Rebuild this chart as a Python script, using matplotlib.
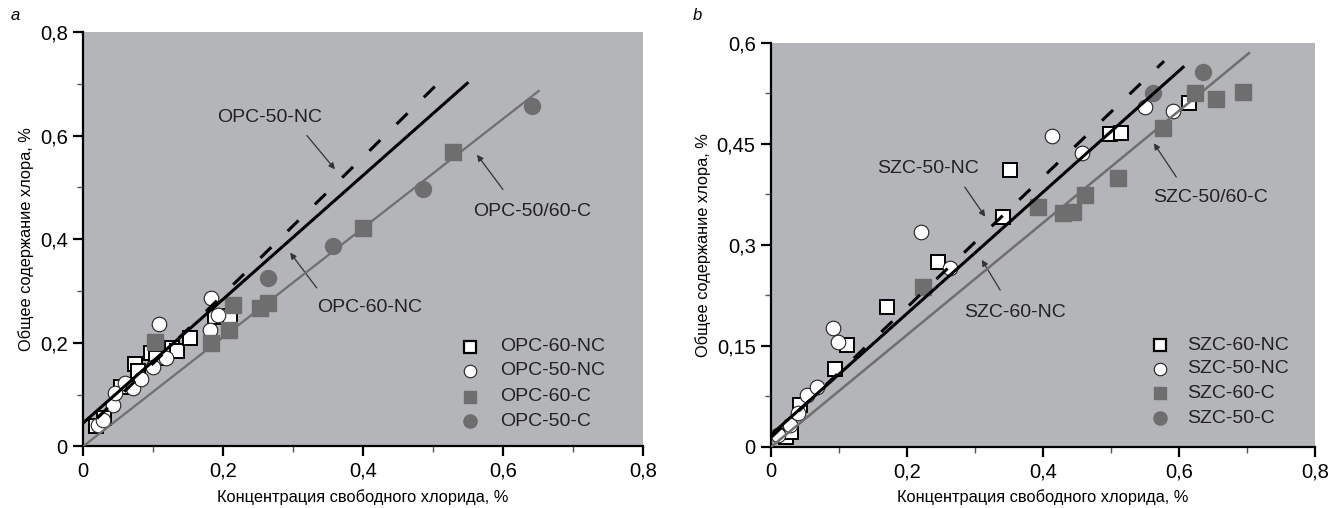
import matplotlib
matplotlib.use("Agg")
import matplotlib.pyplot as plt
from matplotlib.ticker import FuncFormatter, MultipleLocator

plt.rcParams['font.family'] = ['Liberation Sans', 'DejaVu Sans']

# ---------------- Panel a (OPC) ----------------
opc60nc_x = [0.019, 0.03, 0.055, 0.074, 0.078, 0.097, 0.105, 0.127, 0.135, 0.153, 0.189, 0.21]
opc60nc_y = [0.040, 0.055, 0.115, 0.160, 0.145, 0.180, 0.170, 0.190, 0.185, 0.210, 0.250, 0.252]
opc50nc_x = [0.021, 0.028, 0.043, 0.046, 0.06, 0.071, 0.083, 0.10, 0.109, 0.119, 0.181, 0.183, 0.193]
opc50nc_y = [0.041, 0.051, 0.080, 0.103, 0.123, 0.113, 0.130, 0.154, 0.237, 0.171, 0.225, 0.287, 0.254]
opc60c_x = [0.103, 0.183, 0.209, 0.214, 0.253, 0.264, 0.40, 0.529]
opc60c_y = [0.202, 0.200, 0.225, 0.273, 0.267, 0.277, 0.422, 0.569]
opc50c_x = [0.264, 0.357, 0.486, 0.641]
opc50c_y = [0.326, 0.386, 0.496, 0.658]
# fitted lines (x range, y range)
opc60nc_fit_x = [0.0, 0.549]
opc60nc_fit_y = [0.045, 0.701]
opc50nc_fit_x = [0.02, 0.521]
opc50nc_fit_y = [0.054, 0.719]
opcc_fit_x = [0.0, 0.651]
opcc_fit_y = [0.0, 0.686]

# ---------------- Panel b (SZC) ----------------
szc60nc_x = [0.022, 0.030, 0.043, 0.094, 0.112, 0.171, 0.246, 0.341, 0.351, 0.499, 0.515, 0.615]
szc60nc_y = [0.015, 0.022, 0.062, 0.116, 0.151, 0.208, 0.275, 0.342, 0.411, 0.465, 0.466, 0.511]
szc50nc_x = [0.010, 0.028, 0.040, 0.053, 0.068, 0.091, 0.099, 0.221, 0.263, 0.413, 0.457, 0.55, 0.591]
szc50nc_y = [0.018, 0.033, 0.050, 0.077, 0.089, 0.177, 0.156, 0.319, 0.266, 0.462, 0.437, 0.505, 0.499]
szc60c_x = [0.224, 0.393, 0.43, 0.444, 0.462, 0.51, 0.577, 0.624, 0.654, 0.694]
szc60c_y = [0.238, 0.356, 0.347, 0.349, 0.374, 0.400, 0.474, 0.526, 0.517, 0.527]
szc50c_x = [0.562, 0.636]
szc50c_y = [0.526, 0.557]
szc60nc_fit_x = [0.0, 0.606]
szc60nc_fit_y = [0.018, 0.564]
szc50nc_fit_x = [0.0, 0.578]
szc50nc_fit_y = [0.014, 0.573]
szcc_fit_x = [0.0, 0.703]
szcc_fit_y = [0.0, 0.585]

labels_a = ['OPC-60-NC', 'OPC-50-NC', 'OPC-60-C', 'OPC-50-C']
labels_b = ['SZC-60-NC', 'SZC-50-NC', 'SZC-60-C', 'SZC-50-C']

BG = '#b4b5b9'
GRAY = '#6e6e6e'
LGRAY = '#6f6f6f'
DASH = (0, (5, 7.5))

fig = plt.figure(figsize=(13.42, 5.08), dpi=100)
axA = fig.add_axes([0.0618, 0.1211, 0.4173, 0.816])
axB = fig.add_axes([0.5745, 0.1201, 0.4054, 0.7953])

comma = FuncFormatter(lambda v, p: ('%g' % round(v, 3)).replace('.', ','))


def style(ax, ymax, ymaj, ymin):
    ax.set_facecolor(BG)
    ax.set_xlim(0, 0.8)
    ax.set_ylim(0, ymax)
    for s in ['top', 'right']:
        ax.spines[s].set_visible(False)
    for s in ['left', 'bottom']:
        ax.spines[s].set_linewidth(1.6)
    ax.xaxis.set_major_locator(MultipleLocator(0.2))
    ax.xaxis.set_minor_locator(MultipleLocator(0.1))
    ax.yaxis.set_major_locator(MultipleLocator(ymaj))
    ax.yaxis.set_minor_locator(MultipleLocator(ymin))
    ax.xaxis.set_major_formatter(comma)
    ax.yaxis.set_major_formatter(comma)
    ax.tick_params(which='major', direction='out', length=7, width=1.6, labelsize=14.5, pad=4)
    ax.tick_params(which='minor', direction='out', length=4, width=1.0, color='#555555')
    ax.set_xlabel('Концентрация свободного хлорида, %', fontsize=11.8, labelpad=6)
    ax.set_ylabel('Общее содержание хлора, %', fontsize=11.8, labelpad=4)


def scatter(ax, groups):
    sq, ci, gsq, gci = groups
    ax.plot(*sq, ls='none', marker='s', ms=9.5, mfc='white', mec='black', mew=1.4, zorder=3)
    ax.plot(*ci, ls='none', marker='o', ms=10.5, mfc='white', mec='#222222', mew=0.8, zorder=3)
    ax.plot(*gsq, ls='none', marker='s', ms=11, mfc=GRAY, mec=GRAY, zorder=3)
    ax.plot(*gci, ls='none', marker='o', ms=11.5, mfc=GRAY, mec=GRAY, zorder=3)


def legend(ax, x_m, x_t, ys, labels):
    specs = [dict(marker='s', ms=9, mfc='white', mec='black', mew=1.6),
             dict(marker='o', ms=9, mfc='white', mec='#222222', mew=0.8),
             dict(marker='s', ms=9, mfc=GRAY, mec=GRAY),
             dict(marker='o', ms=9.5, mfc=GRAY, mec=GRAY)]
    for y, lab, sp in zip(ys, labels, specs):
        ax.plot([x_m], [y], ls='none', zorder=5, **sp)
        ax.text(x_t, y, lab, fontsize=14, va='center', ha='left', color='#222222')


def note(ax, text, txy, tail, head):
    ax.text(txy[0], txy[1], text, fontsize=14, ha='center', va='center', color='#222222')
    ax.annotate('', xy=head, xytext=tail,
                arrowprops=dict(arrowstyle='-|>', color='#333333', lw=0.9,
                                mutation_scale=9, shrinkA=0, shrinkB=0))


# ---------- Panel a ----------
style(axA, 0.8, 0.2, 0.1)
scatter(axA, [(opc60nc_x, opc60nc_y), (opc50nc_x, opc50nc_y),
              (opc60c_x, opc60c_y), (opc50c_x, opc50c_y)])
axA.plot(opcc_fit_x, opcc_fit_y, color=LGRAY, lw=1.6, zorder=4)
axA.plot(opc60nc_fit_x, opc60nc_fit_y, color='black', lw=2.2, zorder=4)
axA.plot(opc50nc_fit_x, opc50nc_fit_y, color='black', lw=2.2, ls=DASH, zorder=4)
note(axA, 'OPC-50-NC', (0.267, 0.635), (0.32, 0.60), (0.36, 0.535))
note(axA, 'OPC-50/60-C', (0.641, 0.453), (0.60, 0.496), (0.563, 0.563))
note(axA, 'OPC-60-NC', (0.41, 0.268), (0.334, 0.306), (0.296, 0.374))
legend(axA, 0.553, 0.596, [0.192, 0.146, 0.096, 0.049], labels_a)

# ---------- Panel b ----------
style(axB, 0.6, 0.15, 0.075)
scatter(axB, [(szc60nc_x, szc60nc_y), (szc50nc_x, szc50nc_y),
              (szc60c_x, szc60c_y), (szc50c_x, szc50c_y)])
axB.plot(szcc_fit_x, szcc_fit_y, color=LGRAY, lw=1.8, zorder=4)
axB.plot(szc60nc_fit_x, szc60nc_fit_y, color='black', lw=2.2, zorder=4)
axB.plot(szc50nc_fit_x, szc50nc_fit_y, color='black', lw=2.2, ls=DASH, zorder=4)
note(axB, 'SZC-50-NC', (0.231, 0.414), (0.285, 0.386), (0.315, 0.342))
note(axB, 'SZC-50/60-C', (0.646, 0.371), (0.596, 0.401), (0.563, 0.451))
note(axB, 'SZC-60-NC', (0.359, 0.199), (0.337, 0.233), (0.31, 0.278))
legend(axB, 0.572, 0.612, [0.151, 0.116, 0.08, 0.043], labels_b)

fig.text(15 / 1342, 1 - 15 / 508, 'a', fontsize=12, style='italic', ha='center', va='center')
fig.text(697 / 1342, 1 - 15 / 508, 'b', fontsize=12, style='italic', ha='center', va='center')

fig.savefig('out.png', dpi=100)
